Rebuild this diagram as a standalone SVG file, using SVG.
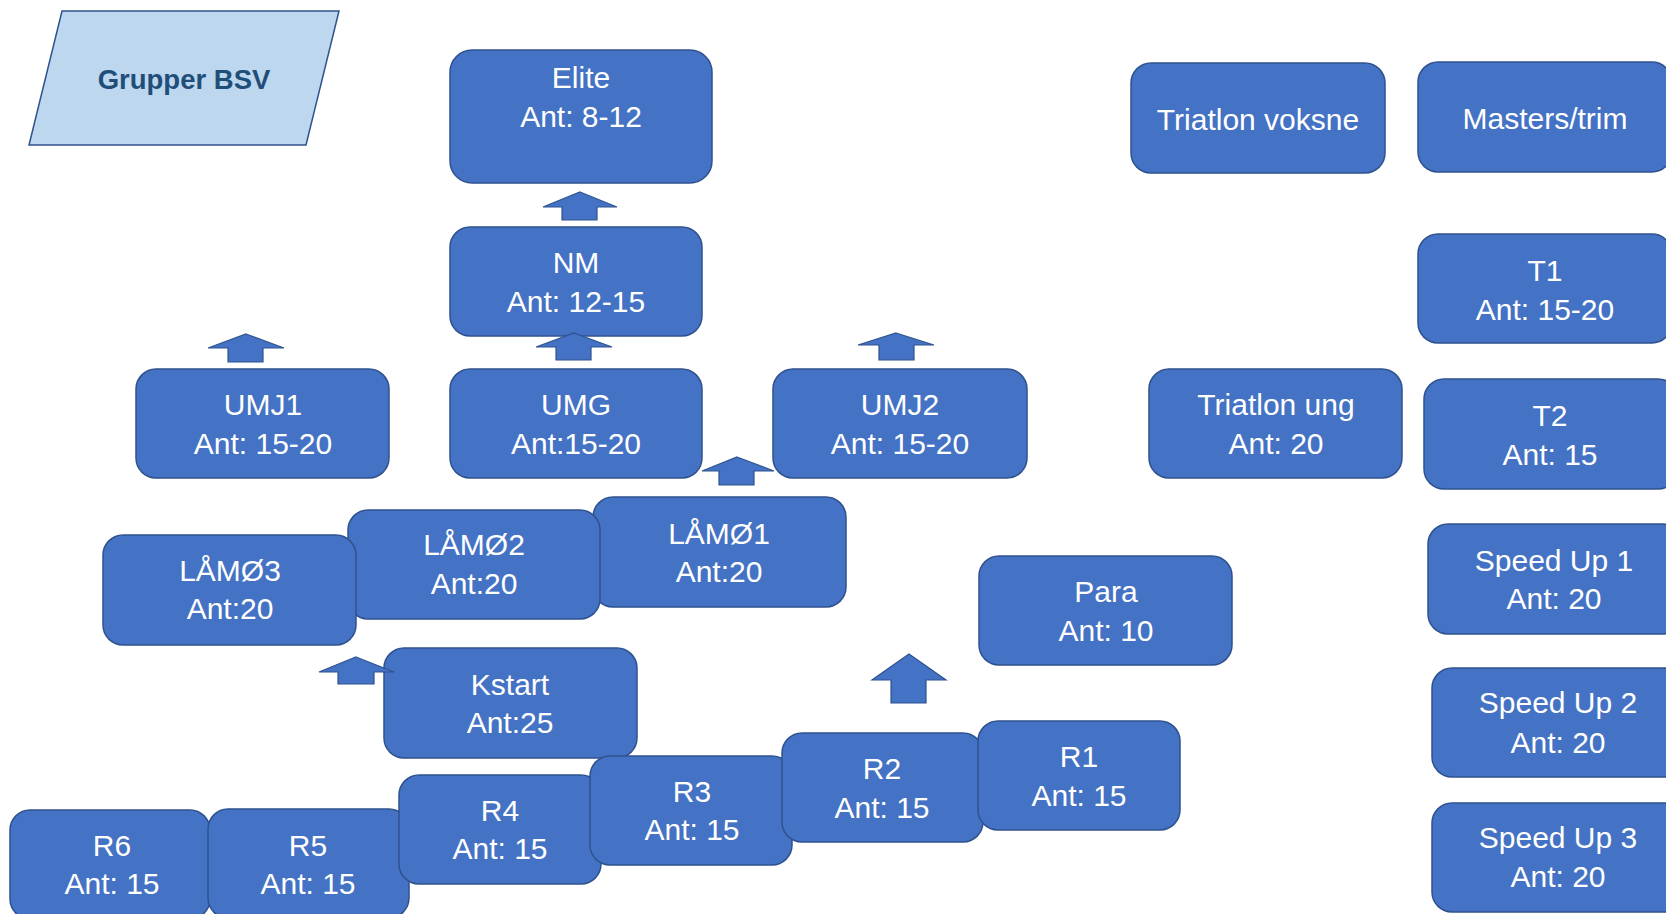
<svg xmlns="http://www.w3.org/2000/svg" width="1666" height="914" viewBox="0 0 1666 914">
<style>
.box{fill:#4472C4;stroke:#2F528F;stroke-width:1.5}
.t{font-family:"Liberation Sans",Arial,sans-serif;font-size:30px;fill:#FFFFFF;text-anchor:middle}
.arr{fill:#4472C4;stroke:#2F528F;stroke-width:1.2;stroke-linejoin:miter}
.title{font-family:"Liberation Sans",Arial,sans-serif;font-size:27.5px;font-weight:bold;fill:#1F4E79;text-anchor:middle}
</style>
<rect width="1666" height="914" fill="#FFFFFF"/>
<g id="grupper-bsv">
<polygon points="62,11 339,11 306,145 29,145" fill="#BDD7EE" stroke="#2F528F" stroke-width="1.5"/>
<text class="title" x="184" y="89">Grupper BSV</text>
</g>
<g id="elite"><rect class="box" x="450" y="50" width="262" height="133" rx="22"/><text class="t" x="581" y="88">Elite</text><text class="t" x="581" y="127">Ant: 8-12</text></g>
<g id="nm"><rect class="box" x="450" y="227" width="252" height="109" rx="20"/><text class="t" x="576" y="273">NM</text><text class="t" x="576" y="312">Ant: 12-15</text></g>
<g id="umj1"><rect class="box" x="136" y="369" width="253" height="109" rx="20"/><text class="t" x="263" y="415">UMJ1</text><text class="t" x="263" y="454">Ant: 15-20</text></g>
<g id="umg"><rect class="box" x="450" y="369" width="252" height="109" rx="20"/><text class="t" x="576" y="415">UMG</text><text class="t" x="576" y="454">Ant:15-20</text></g>
<g id="umj2"><rect class="box" x="773" y="369" width="254" height="109" rx="20"/><text class="t" x="900" y="415">UMJ2</text><text class="t" x="900" y="454">Ant: 15-20</text></g>
<g id="lamo1"><rect class="box" x="593" y="497" width="253" height="110" rx="20"/><text class="t" x="719" y="544">LÅMØ1</text><text class="t" x="719" y="582">Ant:20</text></g>
<g id="lamo2"><rect class="box" x="348" y="510" width="252" height="109" rx="20"/><text class="t" x="474" y="555">LÅMØ2</text><text class="t" x="474" y="594">Ant:20</text></g>
<g id="lamo3"><rect class="box" x="103" y="535" width="253" height="110" rx="20"/><text class="t" x="230" y="581">LÅMØ3</text><text class="t" x="230" y="619">Ant:20</text></g>
<g id="para"><rect class="box" x="979" y="556" width="253" height="109" rx="20"/><text class="t" x="1106" y="602">Para</text><text class="t" x="1106" y="641">Ant: 10</text></g>
<g id="kstart"><rect class="box" x="384" y="648" width="253" height="110" rx="20"/><text class="t" x="510" y="695">Kstart</text><text class="t" x="510" y="733">Ant:25</text></g>
<g id="r6"><rect class="box" x="10" y="810" width="200" height="109" rx="20"/><text class="t" x="112" y="856">R6</text><text class="t" x="112" y="894">Ant: 15</text></g>
<g id="r5"><rect class="box" x="208" y="809" width="201" height="109" rx="20"/><text class="t" x="308" y="856">R5</text><text class="t" x="308" y="894">Ant: 15</text></g>
<g id="r4"><rect class="box" x="399" y="775" width="202" height="109" rx="20"/><text class="t" x="500" y="821">R4</text><text class="t" x="500" y="859">Ant: 15</text></g>
<g id="r3"><rect class="box" x="590" y="756" width="202" height="109" rx="20"/><text class="t" x="692" y="802">R3</text><text class="t" x="692" y="840">Ant: 15</text></g>
<g id="r2"><rect class="box" x="782" y="733" width="201" height="109" rx="20"/><text class="t" x="882" y="779">R2</text><text class="t" x="882" y="818">Ant: 15</text></g>
<g id="r1"><rect class="box" x="978" y="721" width="202" height="109" rx="20"/><text class="t" x="1079" y="767">R1</text><text class="t" x="1079" y="806">Ant: 15</text></g>
<g id="triatlon-voksne"><rect class="box" x="1131" y="63" width="254" height="110" rx="20"/><text class="t" x="1258" y="130">Triatlon voksne</text></g>
<g id="masters-trim"><rect class="box" x="1418" y="62" width="254" height="110" rx="20"/><text class="t" x="1545" y="129">Masters/trim</text></g>
<g id="t1"><rect class="box" x="1418" y="234" width="254" height="109" rx="20"/><text class="t" x="1545" y="281">T1</text><text class="t" x="1545" y="320">Ant: 15-20</text></g>
<g id="triatlon-ung"><rect class="box" x="1149" y="369" width="253" height="109" rx="20"/><text class="t" x="1276" y="415">Triatlon ung</text><text class="t" x="1276" y="454">Ant: 20</text></g>
<g id="t2"><rect class="box" x="1424" y="379" width="254" height="110" rx="20"/><text class="t" x="1550" y="426">T2</text><text class="t" x="1550" y="465">Ant: 15</text></g>
<g id="speed-up-1"><rect class="box" x="1428" y="524" width="254" height="110" rx="20"/><text class="t" x="1554" y="571">Speed Up 1</text><text class="t" x="1554" y="609">Ant: 20</text></g>
<g id="speed-up-2"><rect class="box" x="1432" y="668" width="254" height="109" rx="20"/><text class="t" x="1558" y="713">Speed Up 2</text><text class="t" x="1558" y="753">Ant: 20</text></g>
<g id="speed-up-3"><rect class="box" x="1432" y="803" width="254" height="109" rx="20"/><text class="t" x="1558" y="848">Speed Up 3</text><text class="t" x="1558" y="887">Ant: 20</text></g>
<g id="connectors">
<polygon class="arr" points="580,192 617,207 597,207 597,220 562,220 562,207 543,207"/>
<polygon class="arr" points="574,333 612,347 591,347 591,360 556,360 556,347 536,347"/>
<polygon class="arr" points="246,334 284,348 263,348 263,362 228,362 228,348 208,348"/>
<polygon class="arr" points="896,333 934,345 914,345 914,360 879,360 879,345 858,345"/>
<polygon class="arr" points="737,457 774,471 754,471 754,485 719,485 719,471 702,471"/>
<polygon class="arr" points="356,657 394,672 374,672 374,684 338,684 338,672 319,672"/>
<polygon class="arr" points="909,654 946,680 926,680 926,703 891,703 891,680 872,680"/>
</g>
</svg>
